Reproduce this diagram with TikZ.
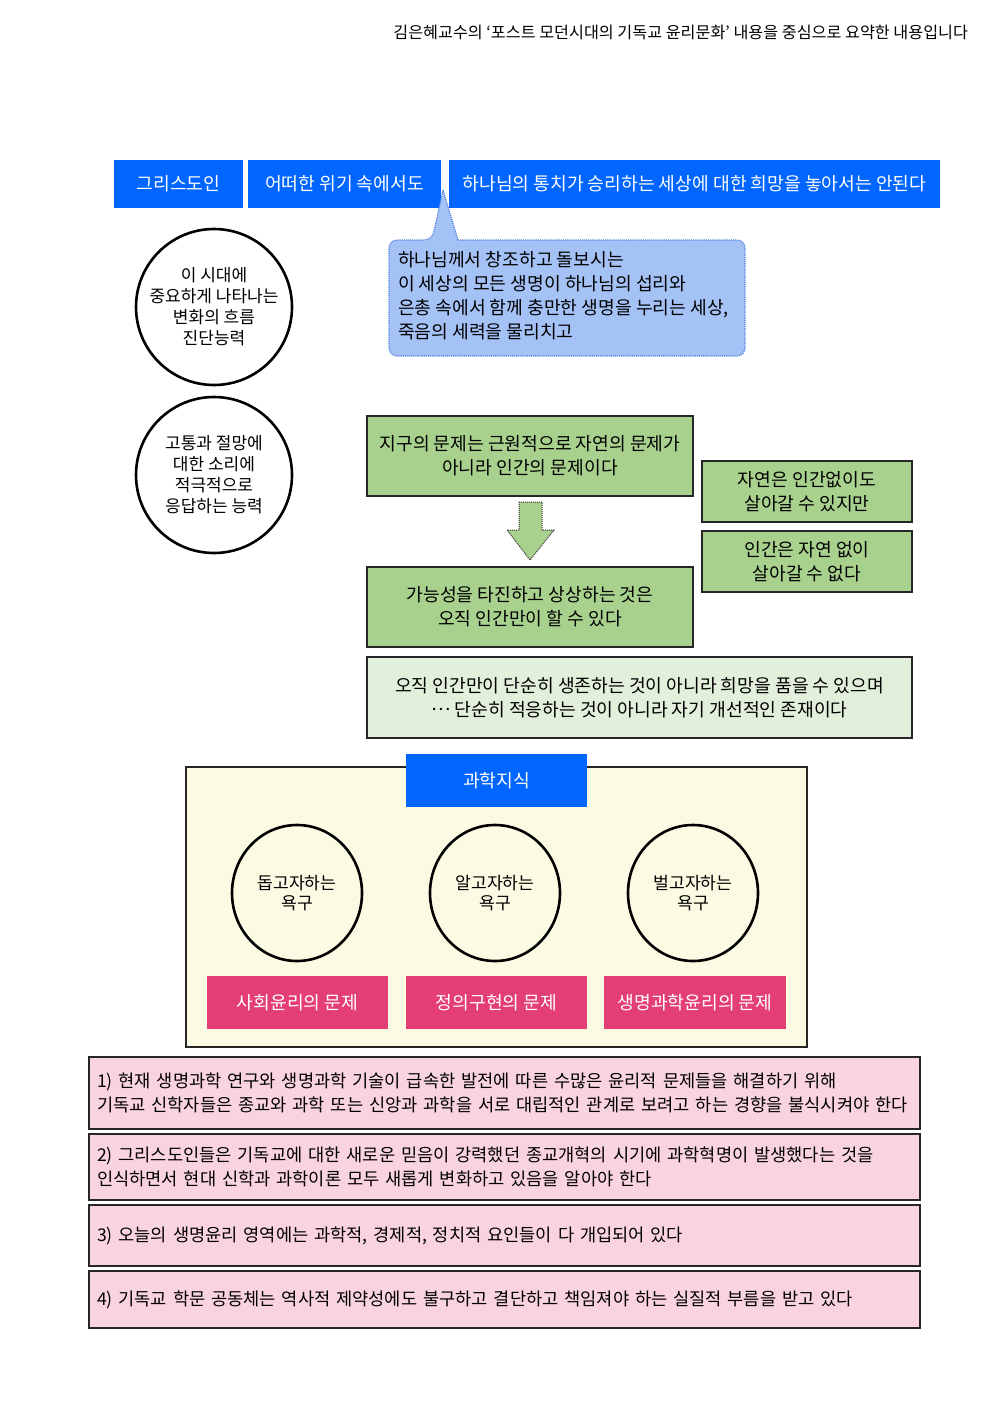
\documentclass[tikz,border=0pt]{standalone}
\usepackage{fontspec}
\setmainfont{Noto Sans CJK KR}
\usetikzlibrary{shapes.geometric}
\definecolor{hdrblue}{HTML}{0066FF}
\definecolor{callfill}{HTML}{A4C2F6}
\definecolor{callline}{HTML}{4A7FE0}
\definecolor{grn}{HTML}{A9D18E}
\definecolor{lgrn}{HTML}{E2EFDA}
\definecolor{ylw}{HTML}{FBFAE2}
\definecolor{mag}{HTML}{E43E77}
\definecolor{pnk}{HTML}{F9D3E0}
\begin{document}
\begin{tikzpicture}[x=1pt,y=-1pt,
  every node/.style={inner sep=0pt, outer sep=0pt},
  fA/.style={font=\fontsize{18.2}{24}\selectfont},
  fB/.style={font=\fontsize{17}{21}\selectfont},
  fC/.style={font=\fontsize{17.2}{19.5}\selectfont},
  bluebox/.style={fill=hdrblue, text=white, fA, minimum height=48},
  ring/.style={circle, draw=black, line width=2.6pt, minimum size=156, fB, align=center},
  greenbox/.style={rectangle, fill=grn, draw=black!85, line width=1.4pt, fA, align=center},
  lgreenbox/.style={rectangle, fill=lgrn, draw=black!85, line width=1.4pt, fA, align=center},
  wish/.style={ellipse, draw=black, line width=2.6pt, fill=ylw, minimum width=130, minimum height=136, fC, align=center},
  magbox/.style={fill=mag, text=white, fA, minimum width=181, minimum height=53},
  pinkbox/.style={rectangle, fill=pnk, draw=black!85, line width=1.4pt, font=\fontsize{17.6}{24}\selectfont, align=left, text width=815, inner xsep=8pt, minimum width=831}
]
\useasboundingbox (0,0) rectangle (992,1403);
\fill[white] (0,0) rectangle (992,1403);

% header
\node[anchor=east, font=\fontsize{16.2}{18}\selectfont] (hdr) at (968,32)
  {김은혜교수의 ‘포스트 모던시대의 기독교 윤리문화’ 내용을 중심으로 요약한 내용입니다};

% top blue boxes
\node[bluebox, minimum width=129] (b1) at (178.5,184) {그리스도인};
\node[bluebox, minimum width=193] (b2) at (344.5,184) {어떠한 위기 속에서도};
\node[bluebox, minimum width=491] (b3) at (694.5,184) {하나님의 통치가 승리하는 세상에 대한 희망을 놓아서는 안된다};

% callout
\draw[fill=callfill, draw=callline, line width=1.1pt, densely dotted]
  (458,240) [rounded corners=8] -- (745,240) -- (745,356) -- (389,356) -- (389,240) -- (432,240)
  [sharp corners] -- (443,190) -- cycle;
\node[fA, anchor=west, align=left] (call) at (398,296)
  {하나님께서 창조하고 돌보시는\\이 세상의 모든 생명이 하나님의 섭리와\\은총 속에서 함께 충만한 생명을 누리는 세상,\\죽음의 세력을 물리치고};

% left circles
\node[ring] (c1) at (214,307) {이 시대에\\중요하게 나타나는\\변화의 흐름\\진단능력};
\node[ring] (c2) at (214,475) {고통과 절망에\\대한 소리에\\적극적으로\\응답하는 능력};

% green boxes
\node[greenbox, minimum width=326, minimum height=80] (g1) at (530,456)
  {지구의 문제는 근원적으로 자연의 문제가\\아니라 인간의 문제이다};
\node[greenbox, minimum width=326, minimum height=80] (g2) at (530,607)
  {가능성을 타진하고 상상하는 것은\\오직 인간만이 할 수 있다};
\node[greenbox, minimum width=210, minimum height=61] (r1) at (807,491.5)
  {자연은 인간없이도\\살아갈 수 있지만};
\node[greenbox, minimum width=210, minimum height=61] (r2) at (807,561.5)
  {인간은 자연 없이\\살아갈 수 없다};
\node[lgreenbox, minimum width=545, minimum height=81] (lg) at (639.5,697.5)
  {오직 인간만이 단순히 생존하는 것이 아니라 희망을 품을 수 있으며\\\raisebox{0.3em}{…} 단순히 적응하는 것이 아니라 자기 개선적인 존재이다};

% dotted block arrow
\draw[fill=grn, draw=black!80, line width=1pt, densely dotted]
  (519,502) -- (542,502) -- (542,530) -- (554,530) -- (530,560) -- (507,530) -- (519,530) -- cycle;

% science box
\node[rectangle, fill=ylw, draw=black!85, line width=1.3pt, minimum width=621, minimum height=280] (sci) at (496.5,907) {};
\node[fill=hdrblue, text=white, fA, minimum width=181, minimum height=53] (sk) at (496.5,780.5) {과학지식};
\node[wish] (e1) at (297,893) {돕고자하는\\욕구};
\node[wish] (e2) at (495,893) {알고자하는\\욕구};
\node[wish] (e3) at (693,893) {벌고자하는\\욕구};
\node[magbox] (m1) at (297.5,1002.5) {사회윤리의 문제};
\node[magbox] (m2) at (496.5,1002.5) {정의구현의 문제};
\node[magbox, minimum width=182] (m3) at (695,1002.5) {생명과학윤리의 문제};

% bottom boxes
\node[pinkbox, minimum height=72] (p1) at (504.5,1093)
  {1) 현재 생명과학 연구와 생명과학 기술이 급속한 발전에 따른 수많은 윤리적 문제들을 해결하기 위해\\기독교 신학자들은 종교와 과학 또는 신앙과 과학을 서로 대립적인 관계로 보려고 하는 경향을 불식시켜야 한다};
\node[pinkbox, minimum height=66] (p2) at (504.5,1167)
  {2) 그리스도인들은 기독교에 대한 새로운 믿음이 강력했던 종교개혁의 시기에 과학혁명이 발생했다는 것을\\인식하면서 현대 신학과 과학이론 모두 새롭게 변화하고 있음을 알아야 한다};
\node[pinkbox, minimum height=61] (p3) at (504.5,1235.5)
  {3) 오늘의 생명윤리 영역에는 과학적, 경제적, 정치적 요인들이 다 개입되어 있다};
\node[pinkbox, minimum height=57] (p4) at (504.5,1299.5)
  {4) 기독교 학문 공동체는 역사적 제약성에도 불구하고 결단하고 책임져야 하는 실질적 부름을 받고 있다};
\end{tikzpicture}
\end{document}
